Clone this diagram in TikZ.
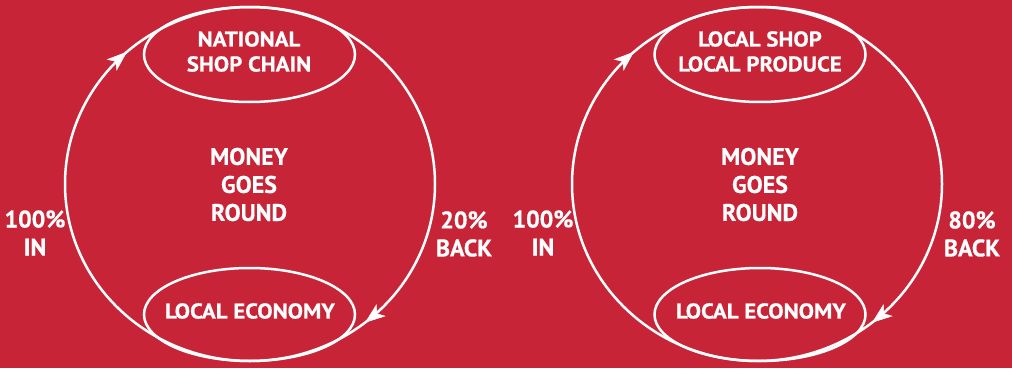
\documentclass[tikz,border=0pt]{standalone}
\usepackage{fontspec}
\setmainfont{PT Sans}[BoldFeatures={FakeBold=0.6}]
\newfontfamily\wideface{PT Sans}[FakeStretch=1.07,BoldFeatures={FakeBold=0.6}]
\usetikzlibrary{decorations.markings,shapes.geometric}
\definecolor{bgred}{RGB}{200,36,55}
\begin{document}
\begin{tikzpicture}[x=1pt,y=1pt,
  lbl/.style={text=white,font=\wideface\bfseries\fontsize{21.4}{25}\selectfont,align=center,inner sep=0pt},
  big/.style={text=white,font=\bfseries\fontsize{24}{28}\selectfont,align=center,inner sep=0pt},
  shop/.style={ellipse,draw=white,line width=2.5pt,inner sep=0pt,minimum width=211pt},
  headshape/.style={fill=white,draw=white,line width=0.5pt,line join=miter},
  loop/.style={draw=white,line width=2.5pt,postaction={decorate},
    decoration={markings,
      mark=at position 0.369 with {\fill[headshape] (-1pt,0pt) -- (18pt,7pt) -- (13pt,0pt) -- (18pt,-7pt) -- cycle;},
      mark=at position 0.86 with {\fill[headshape] (-1pt,0pt) -- (18pt,7pt) -- (13pt,0pt) -- (18pt,-7pt) -- cycle;}}}
]
\fill[bgred] (0,0) rectangle (1012,368);

% left diagram
\draw[loop] (250,184) ellipse [x radius=185, y radius=177];
\node[shop,minimum height=95pt] (shopL) at (249.5,313.5) {};
\node[shop,minimum height=93pt] (econL) at (249.5,53.5) {};
\node[lbl] (shopLt) at (249,316.5) {NATIONAL\\SHOP CHAIN};
\node[lbl] (econLt) at (250,57) {LOCAL ECONOMY};
\node[big] (moneyL) at (249,183.5) {MONEY\\GOES\\ROUND};
\node[big] (inL) at (35,135) {100\%\\IN};
\node[big] (backL) at (464,134) {20\%\\BACK};

% right diagram
\draw[loop] (757,184) ellipse [x radius=185, y radius=177];
\node[shop,minimum height=95pt] (shopR) at (760,313.5) {};
\node[shop,minimum height=93pt] (econR) at (760,53.5) {};
\node[lbl] (shopRt) at (760,316.5) {LOCAL SHOP\\LOCAL PRODUCE};
\node[lbl] (econRt) at (761,57) {LOCAL ECONOMY};
\node[big] (moneyR) at (760,183.5) {MONEY\\GOES\\ROUND};
\node[big] (inR) at (543,135) {100\%\\IN};
\node[big] (backR) at (972,134) {80\%\\BACK};
\end{tikzpicture}
\end{document}
